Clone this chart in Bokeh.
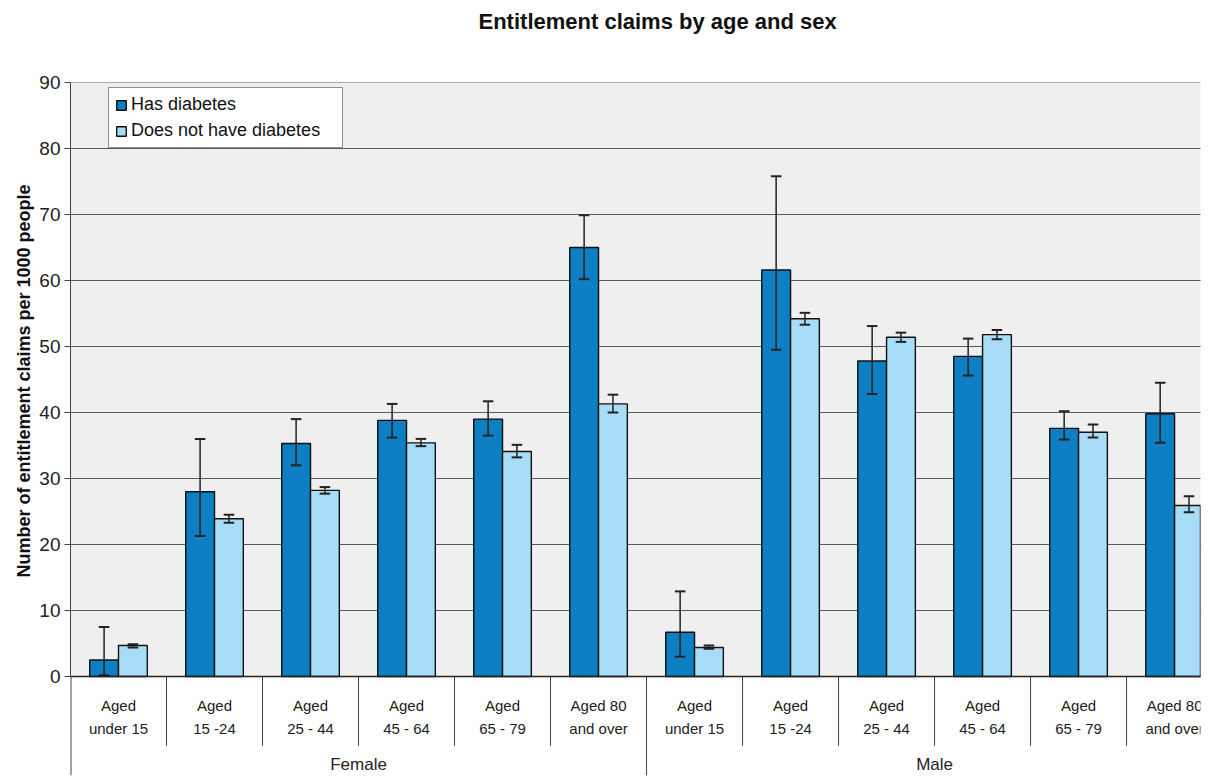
import math
from bokeh.plotting import figure
from bokeh.models import ColumnDataSource, FixedTicker, Legend, LegendItem, Range1d, Title
from bokeh.core.properties import value
from bokeh.embed import file_html
from bokeh.resources import INLINE

# ---- data ----
sexes = ["Female", "Male"]
age_labels = ["Aged\nunder 15", "Aged\n15 -24", "Aged\n25 - 44", "Aged\n45 - 64", "Aged\n65 - 79", "Aged 80\nand over"]
has_diab = [2.5, 28.0, 35.3, 38.8, 39.0, 65.0, 6.7, 61.6, 47.8, 48.5, 37.6, 39.8]
has_diab_lo = [0.2, 21.3, 32.0, 36.2, 36.5, 60.2, 3.0, 49.5, 42.8, 45.6, 35.9, 35.4]
has_diab_hi = [7.5, 36.0, 39.0, 41.3, 41.7, 69.9, 12.9, 75.8, 53.1, 51.2, 40.2, 44.5]
no_diab = [4.7, 23.9, 28.2, 35.4, 34.1, 41.3, 4.4, 54.2, 51.4, 51.8, 37.0, 25.9]
no_diab_lo = [4.4, 23.3, 27.7, 34.9, 33.2, 40.0, 4.2, 53.3, 50.7, 51.1, 36.2, 24.9]
no_diab_hi = [4.9, 24.5, 28.7, 36.0, 35.1, 42.7, 4.7, 55.1, 52.1, 52.5, 38.2, 27.3]
y_ticks = [0, 10, 20, 30, 40, 50, 60, 70, 80, 90]
title_text = "Entitlement claims by age and sex"
y_title = "Number of entitlement claims per 1000 people"
series_names = ["Has diabetes", "Does not have diabetes"]

DARK = "#0d7fc2"
LIGHT = "#a9dcf6"
INK = "#222222"
FONT = "Liberation Sans"

n_groups = len(sexes) * len(age_labels)
centers = [i + 0.5 for i in range(n_groups)]
bw = 0.3
cap = 0.055

def make_src(xs, top, lo, hi):
    return ColumnDataSource(dict(x=xs, top=top, lo=lo, hi=hi,
                                 cl=[x - cap for x in xs], cr=[x + cap for x in xs]))

src_a = make_src([c - bw / 2 for c in centers], has_diab, has_diab_lo, has_diab_hi)
src_b = make_src([c + bw / 2 for c in centers], no_diab, no_diab_lo, no_diab_hi)

p = figure(width=1212, height=778, output_backend="svg", toolbar_location=None,
           x_range=Range1d(0, 11.77), y_range=Range1d(-15, 90),
           x_axis_location=None,
           min_border_left=70, min_border_right=12, min_border_top=82, min_border_bottom=3)
p.background_fill_color = "white"
p.border_fill_color = "white"
p.outline_line_color = None
p.xgrid.visible = False
p.ygrid.visible = False

# title (outermost panel)
p.title.text = title_text
p.title.align = "left"
p.title.offset = 408
p.title.vertical_align = "top"
p.title.standoff = 17
p.title.text_font = FONT
p.title.text_font_size = "22px"
p.title.text_font_style = "bold"
p.title.text_color = "#111111"

# empty spacer panel between the title and the plot area
p.add_layout(Title(text=" ", text_font=FONT, text_font_size="22px", standoff=11), "above")

# y axis title (as a left title so it can be placed on the 0-90 part)
yt = Title(text=y_title, align="left", offset=198, standoff=6,
           text_font=FONT, text_font_size="18px", text_font_style="bold", text_color="#111111")
p.add_layout(yt, "left")

# grey plotting area (0..90)
p.quad(left=[0], right=[n_groups], bottom=[y_ticks[0]], top=[y_ticks[-1]], fill_color="#efefef", line_color=None)
# horizontal gridlines
grid_y = y_ticks[1:]
p.segment(x0=[0] * len(grid_y), x1=[n_groups] * len(grid_y), y0=grid_y, y1=grid_y, line_color="#5a5a5a", line_width=1)

ra = p.vbar(x="x", top="top", bottom=0, width=bw, source=src_a, fill_color=DARK, line_color="#111111", line_width=1.4)
rb = p.vbar(x="x", top="top", bottom=0, width=bw, source=src_b, fill_color=LIGHT, line_color="#111111", line_width=1.4)

# baseline
p.segment(x0=[0], x1=[n_groups], y0=[0], y1=[0], line_color=INK, line_width=1.3)

# error bars
for src in (src_a, src_b):
    p.segment(x0="x", x1="x", y0="lo", y1="hi", source=src, line_color=INK, line_width=1.5)
    p.segment(x0="cl", x1="cr", y0="hi", y1="hi", source=src, line_color=INK, line_width=2)
    p.segment(x0="cl", x1="cr", y0="lo", y1="lo", source=src, line_color=INK, line_width=2)

# category separators
sep_x = [float(i) for i in range(0, n_groups)]
sep_bottom = [-15 if i % len(age_labels) == 0 else -10.5 for i in range(0, n_groups)]
sep_w = [2 if i == 0 else 1 for i in range(0, n_groups)]
p.segment(x0=sep_x, x1=sep_x, y0=[0] * len(sep_x), y1=sep_bottom, line_color="#444444", line_width=sep_w)

# category labels
cat_text = age_labels * len(sexes)
p.text(x=centers, y=[-6.1] * n_groups, text=cat_text, text_align="center", text_baseline="middle",
       text_font=value(FONT), text_font_size="15px", text_color=INK, text_line_height=1.35)
sex_x = [len(age_labels) * (k + 0.5) for k in range(len(sexes))]
p.text(x=sex_x, y=[-13.3] * len(sexes), text=sexes, text_align="center", text_baseline="middle",
       text_font=value(FONT), text_font_size="17px", text_color=INK)

# y axis
p.yaxis.bounds = (y_ticks[0], y_ticks[-1])
p.yaxis.ticker = FixedTicker(ticks=y_ticks)
p.yaxis.minor_tick_line_color = None
p.yaxis.major_tick_out = 6
p.yaxis.major_tick_in = 0
p.yaxis.axis_line_color = "#444444"
p.yaxis.major_tick_line_color = "#444444"
p.yaxis.major_label_text_font = FONT
p.yaxis.major_label_text_font_size = "19px"
p.yaxis.major_label_text_color = INK
p.yaxis.major_label_standoff = 4

legend = Legend(items=[LegendItem(label=series_names[0], renderers=[ra]),
                       LegendItem(label=series_names[1], renderers=[rb])],
                location=(38, 627), orientation="vertical",
                label_text_font=FONT, label_text_font_size="18px", label_text_color="#111111",
                glyph_width=12, glyph_height=12, label_standoff=4, spacing=5,
                padding=6, margin=0, label_width=205, label_height=21,
                border_line_color="#222222", border_line_width=1,
                background_fill_color="white", background_fill_alpha=1)
p.add_layout(legend)

open("out.html", "w").write(file_html(p, INLINE))
